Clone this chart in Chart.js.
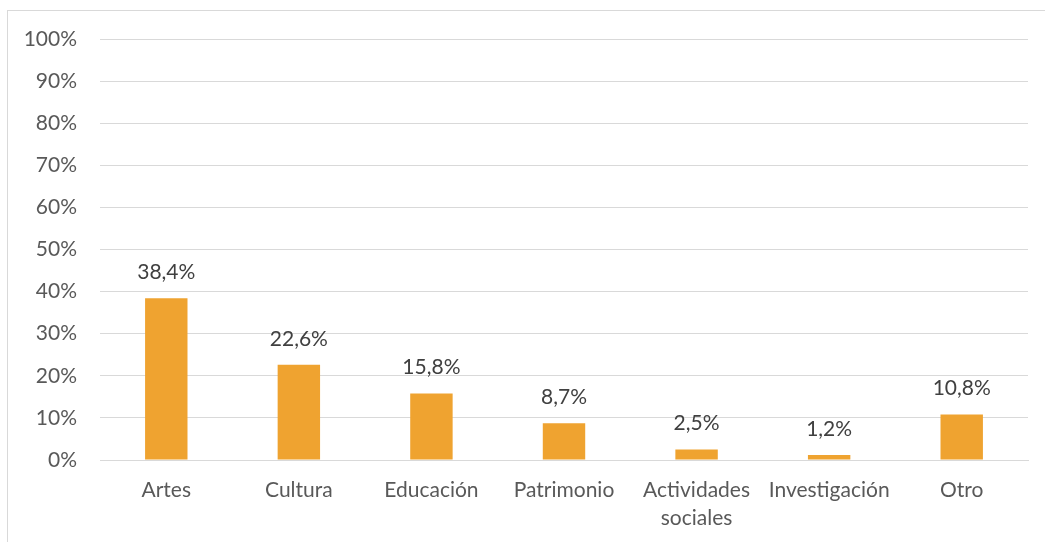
<!DOCTYPE html>
<html>
<head>
<meta charset="utf-8">
<script src="https://cdn.jsdelivr.net/npm/chart.js@4"></script>
<style>
  body { margin: 0; background: #fff; }
  #marco { position: absolute; left: 7px; top: 10px; width: 1100px; height: 600px;
           border-left: 1px solid #d9d9d9; border-top: 1px solid #d9d9d9; }
  #grafico { position: absolute; left: 0; top: 0; }
</style>
</head>
<body>
<div id="marco"></div>
<canvas id="grafico" width="1045" height="542"></canvas>
<script>
var categorias = ["Artes", "Cultura", "Educación", "Patrimonio", ["Actividades", "sociales"], "Investigación", "Otro"];
var valores = [38.4, 22.6, 15.8, 8.7, 2.5, 1.2, 10.8];
var etiquetasValor = ["38,4%", "22,6%", "15,8%", "8,7%", "2,5%", "1,2%", "10,8%"];

var fuente = "Lato, 'Open Sans', sans-serif";

// etiquetas encima de cada barra
var etiquetasBarras = {
	id: "etiquetasBarras",
	afterDatasetsDraw: function(chart) {
		var ctx = chart.ctx;
		var meta = chart.getDatasetMeta(0);
		ctx.save();
		ctx.font = "21px " + fuente;
		ctx.fillStyle = "#404040";
		ctx.textAlign = "center";
		ctx.textBaseline = "middle";
		meta.data.forEach(function(barra, i) {
			ctx.fillText(etiquetasValor[i], barra.x, barra.y - 26);
		});
		ctx.restore();
	}
};

new Chart(document.getElementById("grafico"), {
	type: "bar",
	data: {
		labels: categorias,
		datasets: [{
			data: valores,
			backgroundColor: "#EFA330",
			categoryPercentage: 1,
			barPercentage: 0.32
		}]
	},
	options: {
		responsive: false,
		animation: false,
		layout: { padding: { top: 39, right: 17, bottom: 0, left: 0 } },
		plugins: { legend: { display: false }, tooltip: { enabled: false } },
		scales: {
			x: {
				grid: { display: false, drawTicks: false },
				border: { display: true, color: "#d9d9d9", width: 1 },
				ticks: { color: "#595959", font: { family: fuente, size: 21, lineHeight: 1.35 }, padding: 16, maxRotation: 0, autoSkip: false },
				afterFit: function(eje) { eje.height = 82; }
			},
			y: {
				min: 0,
				max: 100,
				grid: { color: "#d9d9d9", lineWidth: 1, drawTicks: false },
				border: { display: false },
				ticks: {
					stepSize: 10,
					color: "#595959",
					font: { family: fuente, size: 21 },
					padding: 23,
					callback: function(v) { return v + "%"; }
				},
				afterFit: function(eje) { eje.width = 100; }
			}
		}
	},
	plugins: [etiquetasBarras]
});
</script>
</body>
</html>
